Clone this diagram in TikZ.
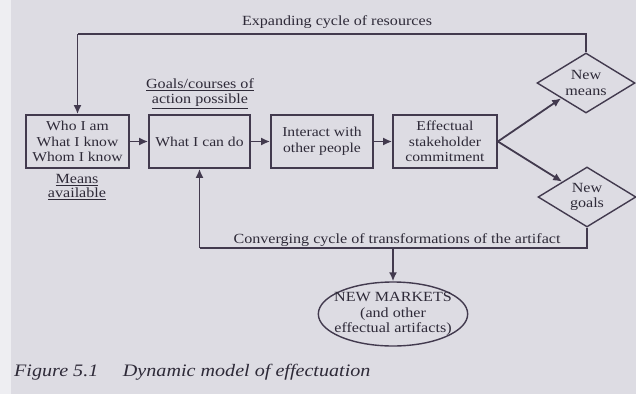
\documentclass[tikz,border=0pt]{standalone}
\usepackage{fontspec}
\setmainfont{Liberation Serif}[FakeStretch=1.15]
\usepackage{tikz}
\usetikzlibrary{arrows.meta,shapes.geometric}
\definecolor{paper}{RGB}{221,220,227}
\definecolor{paperedge}{RGB}{238,238,242}
\definecolor{ink}{RGB}{66,58,78}
\definecolor{print}{RGB}{46,42,56}
\tikzset{
  box/.style={draw=ink, line width=1.7pt, minimum width=#1, minimum height=53pt, inner sep=0pt, align=center, text=print, font=\fontsize{13.6}{15.6}\selectfont},
  choice/.style={draw=ink, line width=1.4pt, diamond, aspect=1.65, minimum width=98pt, minimum height=60pt, inner sep=0pt, align=center, text=print},
  flow/.style={draw=ink, line width=1.8pt, -{Latex[length=9pt,width=8pt]}},
  loop/.style={draw=ink, line width=1.8pt},
  lbl/.style={text=print, align=center, inner sep=0pt}
}

\begin{document}
\begin{tikzpicture}[x=1pt, y=-1pt, font=\fontsize{14}{15.5}\selectfont]
			%%%%% START %%%%%
			\useasboundingbox[fill=paper] (0, 0) rectangle (636, 394);
			\fill[paperedge] (0, 0) rectangle (11, 394);
			
			\node[box=103pt] (who) at (77.5, 141.5) {Who I am\\What I know\\Whom I know};
			\node[box=101pt] (can) at (199.5, 141.5) {What I can do};
			\node[box=102pt] (interact) at (322, 141.5) {Interact with\\other people};
			\node[box=104pt] (commit) at (445, 141.5) {Effectual\\stakeholder\\commitment};
			
			\node[choice] (means) at (586, 83) {New\\means};
			\node[choice] (goals) at (587, 197) {New\\goals};
			
			\node[draw=ink, line width=1.4pt, ellipse, minimum width=142pt, minimum height=64pt, inner xsep=-6pt, inner ysep=-1pt, align=center, text=print] (markets) at (393, 314) {NEW MARKETS\\(and other\\effectual artifacts)};
			
			\node[lbl] (goalstext) at (200, 93.5) {\underline{Goals/courses of}\\[-0.5pt]\underline{action possible}};
			\node[lbl] (meanstext) at (77, 187) {\underline{Means}\\[-2pt]\underline{available}};
			
			\node[lbl] (expanding) at (337, 22) {Expanding cycle of resources};
			\node[lbl] (converging) at (397, 240) {Converging cycle of transformations of the artifact};
			
			% expanding cycle
			\coordinate (topright) at (means.north |- 0, 34);
			\coordinate (topleft) at (who.north |- 0, 34);
			\draw[loop] (means.north) -- (topright) -- (topleft);
			\draw[flow] (topleft) -- (who.north);
			
			% main chain
			\draw[flow] (who) -- (can);
			\draw[flow] (can) -- (interact);
			\draw[flow] (interact) -- (commit);
			\draw[flow] (commit.east) -- (means.south west);
			\draw[flow] (commit.east) -- (goals.north west);
			
			% converging cycle
			\coordinate (botright) at (goals.south |- 0, 248);
			\coordinate (botleft) at (can.south |- 0, 248);
			\coordinate (botmid) at (markets.north |- 0, 248);
			\draw[loop] (goals.south) -- (botright) -- (botleft);
			\draw[flow] (botleft) -- (can.south);
			\draw[flow] (botmid) -- (markets.north);
			
			\node[anchor=west, text=print, inner sep=0pt, font=\fontsize{17.5}{19}\selectfont\itshape] (caption) at (14, 372) {Figure 5.1\hspace{1.4em}Dynamic model of effectuation};
			%%%%% END %%%%%
\end{tikzpicture}
\end{document}
